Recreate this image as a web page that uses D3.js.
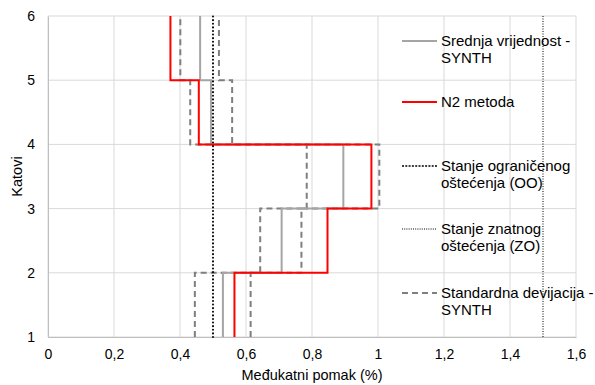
<!DOCTYPE html>
<html><head><meta charset="utf-8">
<script src="https://cdn.jsdelivr.net/npm/d3@7"></script>
<style>body{margin:0;background:#fff;} svg{display:block;font-family:"Liberation Sans",Arial,sans-serif;}</style>
</head><body>
<svg id="c" width="595" height="385"></svg>
<script>
const floors = [1, 2, 3, 4, 5, 6];
const meanSynth = [0.530, 0.708, 0.895, 0.494, 0.461];
const n2Method = [0.565, 0.847, 0.980, 0.457, 0.371];
const sdLower = [0.445, 0.643, 0.784, 0.431, 0.401];
const sdUpper = [0.614, 0.768, 1.004, 0.558, 0.518];
const limitOO = 0.5;
const limitZO = 1.5;
const xTicks = [0, 0.2, 0.4, 0.6, 0.8, 1, 1.2, 1.4, 1.6];
const yTicks = [1, 2, 3, 4, 5, 6];
const legendLabels = [
  ["Srednja vrijednost -", "SYNTH"],
  ["N2 metoda"],
  ["Stanje ograničenog", "oštećenja (OO)"],
  ["Stanje znatnog", "oštećenja (ZO)"],
  ["Standardna devijacija -", "SYNTH"]
];

const svg = d3.select("#c");
const m = {l: 48, r: 19, t: 16, b: 48};
const W = 595, H = 385;
const x = d3.scaleLinear().domain([0, 1.6]).range([m.l, W - m.r]);
const y = d3.scaleLinear().domain([1, 6]).range([H - m.b, m.t]);
const fmt = d => String(d).replace(".", ",");

// grid
svg.append("g").selectAll("line").data(xTicks).join("line")
  .attr("x1", d => x(d)).attr("x2", d => x(d)).attr("y1", y(1)).attr("y2", y(6))
  .attr("stroke", "#d9d9d9").attr("stroke-width", 1);
svg.append("g").selectAll("line").data(yTicks).join("line")
  .attr("x1", x(0)).attr("x2", x(1.6)).attr("y1", d => y(d)).attr("y2", d => y(d))
  .attr("stroke", "#d9d9d9").attr("stroke-width", 1);

// axes
const xa = svg.append("g").attr("transform", `translate(0,${y(1)})`)
  .call(d3.axisBottom(x).tickValues(xTicks).tickFormat(fmt).tickSize(0).tickPadding(12));
const ya = svg.append("g").attr("transform", `translate(${x(0)},0)`)
  .call(d3.axisLeft(y).tickValues(yTicks).tickFormat(d3.format("d")).tickSize(0).tickPadding(13));
[xa, ya].forEach(a => {
  a.select(".domain").attr("stroke", "#bfbfbf").attr("stroke-width", 1);
  a.selectAll("text").attr("font-size", "14px").attr("fill", "#000")
   .attr("font-family", "Liberation Sans, Arial, sans-serif");
});

// step builder
function stepPts(vals) {
  const pts = [];
  vals.forEach((v, i) => { pts.push([v, floors[i]]); pts.push([v, floors[i + 1]]); });
  return pts;
}
const line = d3.line().x(d => x(d[0])).y(d => y(d[1]));

const series = [
  {vals: sdLower, color: "#7f7f7f", dash: "6,4", w: 2},
  {vals: sdUpper, color: "#7f7f7f", dash: "6,4", w: 2},
  {vals: meanSynth, color: "#a5a5a5", dash: null, w: 2},
  {vals: n2Method, color: "#ff0000", dash: null, w: 2}
];
series.forEach(s => {
  svg.append("path").datum(stepPts(s.vals)).attr("d", line)
    .attr("fill", "none").attr("stroke", s.color).attr("stroke-width", s.w)
    .attr("stroke-dasharray", s.dash);
});

// limit lines
svg.append("line").attr("x1", x(limitOO)).attr("x2", x(limitOO)).attr("y1", y(1)).attr("y2", y(6))
  .attr("stroke", "#000").attr("stroke-width", 2).attr("stroke-dasharray", "0.1,3.5").attr("stroke-linecap", "round");
svg.append("line").attr("x1", x(limitZO)).attr("x2", x(limitZO)).attr("y1", y(1)).attr("y2", y(6))
  .attr("stroke", "#000").attr("stroke-width", 1).attr("stroke-dasharray", "1,1.5");

// axis titles
svg.append("text").attr("x", (x(0) + x(1.6)) / 2).attr("y", 380).attr("text-anchor", "middle")
  .attr("font-size", "14.5px").text("Međukatni pomak (%)");
svg.append("text").attr("transform", `translate(22,${(y(1) + y(6)) / 2}) rotate(-90)`)
  .attr("text-anchor", "middle").attr("font-size", "14.5px").text("Katovi");

// legend
const legY = [41, 102, 166, 229, 293];
const legStyles = [
  {color: "#a5a5a5", dash: null, w: 2},
  {color: "#ff0000", dash: null, w: 2},
  {color: "#000", dash: "2,1.3", w: 1.5},
  {color: "#000", dash: "1,1.2", w: 1},
  {color: "#7f7f7f", dash: "6,4", w: 2}
];
const lg = svg.append("g");
legendLabels.forEach((lbl, i) => {
  const st = legStyles[i];
  lg.append("line").attr("x1", 402).attr("x2", 437).attr("y1", legY[i]).attr("y2", legY[i])
    .attr("stroke", st.color).attr("stroke-width", st.w).attr("stroke-dasharray", st.dash);
  const t = lg.append("text").attr("x", 441).attr("y", legY[i] + 5).attr("font-size", "15px");
  lbl.forEach((s, j) => t.append("tspan").attr("x", 441).attr("dy", j === 0 ? 0 : 17).text(s));
});
</script>
</body></html>
